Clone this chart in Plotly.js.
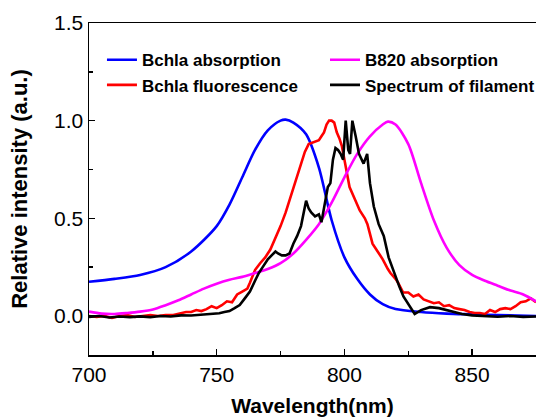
<!DOCTYPE html>
<html>
<head>
<meta charset="utf-8">
<script src="https://cdn.plot.ly/plotly-3.0.1.min.js"></script>
<style>html,body{margin:0;padding:0;background:#fff;}#chart{width:540px;height:417px;}</style>
</head>
<body>
<div id="chart"></div>
<script>
// Bchla absorption (blue)
const absX = [700,710,720,730,740,750,755,760,765,770,775,777,780,785,790,795,800,805,810,815,820,830,840,850,860,875];
const absY = [0.175,0.19,0.21,0.25,0.33,0.46,0.57,0.71,0.85,0.95,1.0,1.005,0.99,0.93,0.76,0.49,0.30,0.19,0.11,0.06,0.035,0.02,0.012,0.008,0.004,0.0];

// B820 absorption (magenta)
const b820X = [700,705,710,715,720,725,730,735,740,745,750,755,760,765,770,775,780,785,790,795,800,805,810,815,817,820,825,830,835,840,845,850,855,860,865,870,875];
const b820Y = [0.022,0.012,0.01,0.015,0.022,0.033,0.055,0.08,0.11,0.14,0.165,0.185,0.2,0.22,0.24,0.27,0.32,0.39,0.47,0.58,0.71,0.83,0.92,0.98,0.995,0.98,0.88,0.68,0.49,0.35,0.26,0.21,0.18,0.155,0.13,0.11,0.075];

// Bchla fluorescence (red)
const fluX = [700,703,706,709,712,715,718,721,724,727,730,733,736,738,740,742,744,746,748,750,752,754,756,758,760,762,763,764,765,767,769,771,773,775,777,779,781,783,784.5,786,788,790,791,792,793,794,795,796,797,798,799,800,801,802,804,806,808,809,810,811,813,815,817,818,820,821,823,825,827,829,831,833,835,837,839,841,843,845,847,849,851,853,855,857,859,861,863,865,867,869,871,873,875];
const fluY = [0.0,-0.005,0.0,-0.01,0.0,0.005,-0.005,0.0,0.005,0.0,0.005,0.005,0.015,0.02,0.02,0.03,0.025,0.035,0.05,0.04,0.055,0.075,0.07,0.11,0.125,0.14,0.17,0.2,0.235,0.27,0.30,0.34,0.40,0.46,0.53,0.61,0.69,0.78,0.84,0.88,0.89,0.90,0.92,0.94,0.98,1.0,1.0,0.99,0.94,0.91,0.87,0.80,0.72,0.66,0.60,0.54,0.50,0.47,0.42,0.37,0.33,0.29,0.24,0.22,0.19,0.17,0.12,0.12,0.10,0.11,0.085,0.075,0.065,0.07,0.05,0.055,0.04,0.035,0.03,0.02,0.015,0.015,0.01,0.03,0.02,0.035,0.04,0.035,0.05,0.07,0.075,0.09,0.07];

// Spectrum of filament (black)
const filX = [700,704,708,712,716,720,724,728,732,736,740,744,748,751,753,755,757,759,761,763,765,766.5,768,770,771.5,773,774,775.5,777,778.5,780,781.5,783,784,785,786,787,788.5,790,791,792,793.5,794.5,795.5,796.5,797.5,798.5,799.5,800.5,801.5,802.2,803.1,804.4,805.7,807.5,808.9,810,811.5,813.4,815.4,817.3,819.9,821.5,823.1,825,827.5,830,833.5,837,840,843,846,850,855,860,865,870,875];
const filY = [-0.005,0.0,-0.008,-0.003,-0.006,-0.002,-0.006,0.0,-0.003,0.003,0.002,0.006,0.01,0.014,0.02,0.025,0.04,0.056,0.09,0.125,0.18,0.22,0.25,0.29,0.31,0.33,0.32,0.31,0.31,0.32,0.37,0.41,0.46,0.53,0.59,0.55,0.53,0.51,0.52,0.48,0.56,0.66,0.68,0.80,0.86,0.85,0.83,0.80,1.0,0.85,0.83,1.0,0.92,0.83,0.78,0.83,0.68,0.56,0.47,0.41,0.30,0.20,0.15,0.10,0.06,0.01,0.03,0.045,0.04,0.03,0.022,0.01,0.003,0.0,-0.004,0.0,-0.005,-0.003];

const names = ['Bchla absorption','Bchla fluorescence','B820 absorption','Spectrum of filament'];
const xTicks = [700,750,800,850];
const yTicks = [0.0,0.5,1.0,1.5];
const yTickText = ['0.0','0.5','1.0','1.5'];

const lw = 2.6;
const traces = [
  {x:absX,y:absY,name:names[0],mode:'lines',line:{color:'#0000ff',width:lw,shape:'spline',smoothing:0.8},legend:'legend'},
  {x:fluX,y:fluY,name:names[1],mode:'lines',line:{color:'#ff0000',width:lw},legend:'legend'},
  {x:b820X,y:b820Y,name:names[2],mode:'lines',line:{color:'#ff00ff',width:lw,shape:'spline',smoothing:0.8},legend:'legend2'},
  {x:filX,y:filY,name:names[3],mode:'lines',line:{color:'#000000',width:lw},legend:'legend2'}
];

const legFont = {family:'Liberation Sans, Arial, sans-serif',size:17,color:'#000',weight:'bold'};
const layout = {
  width:540,height:417,
  margin:{l:89,r:0,t:23,b:62},
  paper_bgcolor:'#fff',plot_bgcolor:'#fff',
  font:{family:'Liberation Sans, Arial, sans-serif',color:'#000'},
  xaxis:{
    range:[700,875],tickvals:xTicks,ticks:'inside',ticklen:6,tickwidth:1.5,tickcolor:'#000',
    showline:true,linecolor:'#000',linewidth:1.5,mirror:true,showgrid:false,zeroline:false,
    tickfont:{size:21,color:'#000'},
    minor:{dtick:25,tick0:700,ticks:'inside',ticklen:4,tickwidth:1.5,tickcolor:'#000',showgrid:false},
    title:{text:'<b>Wavelength(nm)</b>',font:{size:21,color:'#000'},standoff:13}
  },
  yaxis:{
    range:[-0.2,1.5],tickvals:yTicks,ticktext:yTickText,ticks:'inside',ticklen:6,tickwidth:1.5,tickcolor:'#000',
    showline:true,linecolor:'#000',linewidth:1.5,showgrid:false,zeroline:false,
    tickfont:{size:21,color:'#000'},
    minor:{dtick:0.25,tick0:0,ticks:'inside',ticklen:4,tickwidth:1.5,tickcolor:'#000',showgrid:false},
    title:{text:'<b>Relative intensity (a.u.)</b>',font:{size:22,color:'#000'},standoff:20}
  },
  legend:{x:0.029,y:0.942,xanchor:'left',yanchor:'top',bgcolor:'rgba(0,0,0,0)',font:legFont,tracegroupgap:0,itemwidth:30},
  legend2:{x:0.528,y:0.942,xanchor:'left',yanchor:'top',bgcolor:'rgba(0,0,0,0)',font:legFont,tracegroupgap:0,itemwidth:30},
  showlegend:true
};

Plotly.newPlot('chart',traces,layout,{displayModeBar:false,staticPlot:true});
</script>
</body>
</html>
